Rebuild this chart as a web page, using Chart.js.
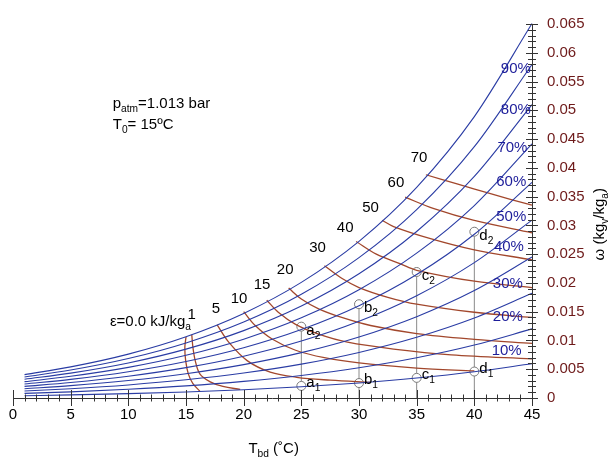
<!DOCTYPE html>
<html>
<head>
<meta charset="utf-8">
<script src="https://cdn.jsdelivr.net/npm/chart.js@4.4.1/dist/chart.umd.min.js"></script>
<style>
  html, body { margin: 0; padding: 0; background: #fff; }
  #wrap { width: 610px; height: 458px; }
</style>
</head>
<body>
<div id="wrap"><canvas id="chart" width="610" height="458"></canvas></div>
<script>
// Dry-bulb temperatures (deg C) where the relative humidity curves were read
var tempC = [1, 5, 10, 15, 20, 25, 30, 35, 40, 45];

// Humidity ratio (kg_v/kg_a) of each relative humidity curve, one value per temperature
var rh100 = [0.00406, 0.00541, 0.00763, 0.01065, 0.01470, 0.02009, 0.02722, 0.03660, 0.04891, 0.06508];
var rh90  = [0.00365, 0.00486, 0.00686, 0.00957, 0.01320, 0.01802, 0.02439, 0.03274, 0.04368, 0.05797];
var rh80  = [0.00325, 0.00432, 0.00609, 0.00849, 0.01171, 0.01597, 0.02159, 0.02894, 0.03852, 0.05100];
var rh70  = [0.00284, 0.00377, 0.00532, 0.00742, 0.01022, 0.01393, 0.01881, 0.02517, 0.03345, 0.04417];
var rh60  = [0.00243, 0.00323, 0.00456, 0.00635, 0.00874, 0.01190, 0.01605, 0.02145, 0.02845, 0.03748];
var rh50  = [0.00202, 0.00269, 0.00379, 0.00528, 0.00727, 0.00989, 0.01332, 0.01778, 0.02353, 0.03092];
var rh40  = [0.00162, 0.00215, 0.00303, 0.00422, 0.00580, 0.00788, 0.01061, 0.01414, 0.01868, 0.02450];
var rh30  = [0.00121, 0.00161, 0.00227, 0.00316, 0.00434, 0.00589, 0.00792, 0.01055, 0.01391, 0.01819];
var rh20  = [0.00081, 0.00107, 0.00151, 0.00210, 0.00289, 0.00392, 0.00526, 0.00699, 0.00920, 0.01201];
var rh10  = [0.00040, 0.00054, 0.00076, 0.00105, 0.00144, 0.00195, 0.00262, 0.00348, 0.00457, 0.00595];
var rhNames = ['100%', '90%', '80%', '70%', '60%', '50%', '40%', '30%', '20%', '10%'];

// Constant exergy lines, [T, omega] pairs
var exergy0  = [[15.0, 0.0106], [14.9, 0.0088], [14.97, 0.0065], [15.2, 0.0042], [15.6, 0.0025], [16.2, 0.0012]];
var exergy1  = [[15.5, 0.0110], [15.6, 0.0088], [15.8, 0.0065], [16.2, 0.0042], [17.1, 0.0028], [18.2, 0.0020], [19.7, 0.0015]];
var exergy5  = [[17.7, 0.0127], [18.7, 0.0097], [20.3, 0.0065], [22.3, 0.0045], [24.6, 0.0036], [27.5, 0.0031], [31.0, 0.0027]];
var exergy10 = [[20.0, 0.0150], [21.0, 0.0126], [22.5, 0.0102], [24.5, 0.0083], [27.0, 0.0070], [30.0, 0.0061], [35.0, 0.0052], [40.0, 0.0047]];
var exergy15 = [[22.0, 0.0170], [23.0, 0.0149], [24.5, 0.0128], [26.5, 0.0111], [29.0, 0.0097], [33.0, 0.0085], [38.0, 0.0075], [45.0, 0.0068]];
var exergy20 = [[23.9, 0.0191], [25.0, 0.0172], [26.5, 0.0155], [28.5, 0.0140], [31.0, 0.0126], [35.0, 0.0112], [40.0, 0.0102], [45.0, 0.0095]];
var exergy30 = [[27.0, 0.0230], [28.5, 0.0208], [30.0, 0.0192], [32.5, 0.0175], [35.0, 0.0163], [40.0, 0.0149], [45.0, 0.0140]];
var exergy40 = [[29.75, 0.0272], [31.5, 0.0250], [33.6, 0.0233], [35.0, 0.0222], [40.0, 0.0203], [45.0, 0.0192]];
var exergy50 = [[32.0, 0.0309], [33.0, 0.0298], [36.2, 0.0277], [39.9, 0.0258], [45.0, 0.0240]];
var exergy60 = [[34.0, 0.0349], [36.5, 0.0329], [39.9, 0.0309], [45.0, 0.0287]];
var exergy70 = [[35.8, 0.0388], [38.5, 0.0372], [41.4, 0.0355], [45.0, 0.0335]];

// State points: temperature, lower (1) and upper (2) humidity ratio
var stateNames = ['a', 'b', 'c', 'd'];
var stateT     = [25, 30, 35, 40];
var stateLow   = [0.0021, 0.0026, 0.0035, 0.0046];
var stateHigh  = [0.0124, 0.0163, 0.0219, 0.0289];

// Axis ticks
var xTicks = [0, 5, 10, 15, 20, 25, 30, 35, 40, 45];
var yTicks = [0, 0.005, 0.01, 0.015, 0.02, 0.025, 0.03, 0.035, 0.04, 0.045, 0.05, 0.055, 0.06, 0.065];

var BLUE = '#2a3ca4';
var RED = '#a2472c';
var FONT = '"Liberation Sans", Arial, sans-serif';

function pairs(xs, ys) {
    return xs.map(function(x, i) { return { x: x, y: ys[i] }; });
}
function toPoints(list) {
    return list.map(function(p) { return { x: p[0], y: p[1] }; });
}

var datasets = [];

[rh100, rh90, rh80, rh70, rh60, rh50, rh40, rh30, rh20, rh10].forEach(function(arr, i) {
    datasets.push({
        label: 'RH ' + rhNames[i],
        data: pairs(tempC, arr),
        borderColor: BLUE,
        borderWidth: 1.1,
        pointRadius: 0,
        cubicInterpolationMode: 'monotone',
        clip: 4
    });
});

[exergy0, exergy1, exergy5, exergy10, exergy15, exergy20, exergy30, exergy40, exergy50, exergy60, exergy70].forEach(function(arr) {
    datasets.push({
        label: 'exergy',
        data: toPoints(arr),
        borderColor: RED,
        borderWidth: 1.3,
        pointRadius: 0,
        tension: 0.35,
        clip: 4
    });
});

// vertical process lines through each pair of states
stateT.forEach(function(t, i) {
    datasets.push({
        label: stateNames[i],
        data: [{ x: t, y: 0 }, { x: t, y: stateLow[i] }, { x: t, y: stateHigh[i] }],
        borderColor: '#8a8a8a',
        borderWidth: 1,
        pointRadius: [0, 4.5, 4.5],
        pointBackgroundColor: '#fff',
        pointBorderColor: '#7a7a7a',
        pointBorderWidth: 1,
        tension: 0
    });
});

// text labels, anchored in data coordinates
var notes = [
    { parts: [['p'], ['atm', 1], ['=1.013 bar']], x: 8.65, y: 0.0504, color: '#000' },
    { parts: [['T'], ['0', 1], ['= 15ºC']], x: 8.65, y: 0.0467, color: '#000' },
    { parts: [['ε=0.0 kJ/kg'], ['a', 1]], x: 8.4, y: 0.0126, color: '#000' },
    { parts: [['1']], x: 15.5, y: 0.0137, color: '#000', center: true },
    { parts: [['5']], x: 17.6, y: 0.0147, color: '#000', center: true },
    { parts: [['10']], x: 19.6, y: 0.0165, color: '#000', center: true },
    { parts: [['15']], x: 21.6, y: 0.0189, color: '#000', center: true },
    { parts: [['20']], x: 23.6, y: 0.0216, color: '#000', center: true },
    { parts: [['30']], x: 26.4, y: 0.0254, color: '#000', center: true },
    { parts: [['40']], x: 28.8, y: 0.0289, color: '#000', center: true },
    { parts: [['50']], x: 31.0, y: 0.0324, color: '#000', center: true },
    { parts: [['60']], x: 33.2, y: 0.0367, color: '#000', center: true },
    { parts: [['70']], x: 35.2, y: 0.0410, color: '#000', center: true }
];
var rhLabelPos = [null, [42.3, 0.0565], [42.3, 0.0494], [42.0, 0.0427], [41.9, 0.0369], [41.9, 0.0308], [41.7, 0.0256], [41.6, 0.0191], [41.6, 0.0133], [41.5, 0.0075]];

var decorPlugin = {
    id: 'decor',
    afterDatasetsDraw: function(chart) {
        var ctx = chart.ctx;
        var xs = chart.scales.x, ys = chart.scales.y;
        var y0 = ys.getPixelForValue(0);
        var xr = xs.getPixelForValue(45);
        ctx.save();
        ctx.strokeStyle = '#333';
        ctx.lineWidth = 1;
        ctx.beginPath();
        ctx.moveTo(xs.getPixelForValue(0), y0 + 0.5);
        ctx.lineTo(xr, y0 + 0.5);
        ctx.moveTo(xr + 0.5, y0);
        ctx.lineTo(xr + 0.5, ys.getPixelForValue(0.065));
        for (var t = 0; t <= 45; t++) {
            var px = Math.round(xs.getPixelForValue(t)) + 0.5;
            var len = (t % 5 === 0) ? 8 : 3.5;
            ctx.moveTo(px, y0 - len);
            ctx.lineTo(px, y0 + len);
        }
        for (var k = 0; k <= 65; k++) {
            var py = Math.round(ys.getPixelForValue(k / 1000)) + 0.5;
            var l2 = (k % 5 === 0) ? 6 : 4;
            ctx.moveTo(xr - l2, py);
            ctx.lineTo(xr + l2, py);
        }
        ctx.stroke();

        function rich(parts, x, y, color, center, size) {
            size = size || 15;
            var w = 0;
            parts.forEach(function(p) {
                ctx.font = (p[1] ? size * 0.68 : size) + 'px ' + FONT;
                w += ctx.measureText(p[0]).width;
            });
            var cx = center ? x - w / 2 : x;
            ctx.fillStyle = color;
            ctx.textBaseline = 'alphabetic';
            ctx.textAlign = 'left';
            parts.forEach(function(p) {
                ctx.font = (p[1] ? size * 0.68 : size) + 'px ' + FONT;
                ctx.fillText(p[0], cx, y + (p[1] ? 4 : 0));
                cx += ctx.measureText(p[0]).width;
            });
        }

        notes.forEach(function(n) {
            rich(n.parts, xs.getPixelForValue(n.x), ys.getPixelForValue(n.y), n.color, n.center);
        });
        rhLabelPos.forEach(function(p, i) {
            if (!p) return;
            rich([[rhNames[i]]], xs.getPixelForValue(p[0]), ys.getPixelForValue(p[1]), '#1d1d9a', false);
        });
        stateT.forEach(function(t, i) {
            rich([[stateNames[i]], ['1', 1]], xs.getPixelForValue(t) + 5, ys.getPixelForValue(stateLow[i]) + 1, '#000', false);
            rich([[stateNames[i]], ['2', 1]], xs.getPixelForValue(t) + 5, ys.getPixelForValue(stateHigh[i]) + 8, '#000', false);
        });

        // axis titles
        rich([['T'], ['bd', 1], [' (˚C)']], xs.getPixelForValue(22.6), 453, '#000', true);
        ctx.save();
        ctx.translate(604, ys.getPixelForValue(0.0302));
        ctx.rotate(-Math.PI / 2);
        rich([['ω (kg'], ['v', 1], ['/kg'], ['a', 1], [')']], 0, 0, '#000', true);
        ctx.restore();
        ctx.restore();
    }
};

new Chart(document.getElementById('chart'), {
    type: 'scatter',
    data: { datasets: datasets },
    options: {
        responsive: false,
        animation: false,
        showLine: true,
        layout: { padding: { left: 13, top: 21, right: 0, bottom: 0 } },
        plugins: { legend: { display: false }, tooltip: { enabled: false } },
        scales: {
            x: {
                type: 'linear', min: 0, max: 45,
                grid: { display: false, drawTicks: false },
                border: { display: false },
                afterBuildTicks: function(scale) { scale.ticks = xTicks.map(function(v) { return { value: v }; }); },
                afterFit: function(scale) { scale.height = 60; },
                ticks: { color: '#000', padding: 8, font: { size: 15, family: FONT }, maxRotation: 0 }
            },
            y: {
                type: 'linear', position: 'right', min: 0, max: 0.065,
                grid: { display: false, drawTicks: false },
                border: { display: false },
                afterBuildTicks: function(scale) { scale.ticks = yTicks.map(function(v) { return { value: v }; }); },
                afterFit: function(scale) { scale.width = 78; },
                ticks: {
                    color: '#6e1a1a', padding: 15, font: { size: 15, family: FONT },
                    callback: function(v) { return String(+v.toFixed(3)); }
                }
            }
        }
    },
    plugins: [decorPlugin]
});
</script>
</body>
</html>
